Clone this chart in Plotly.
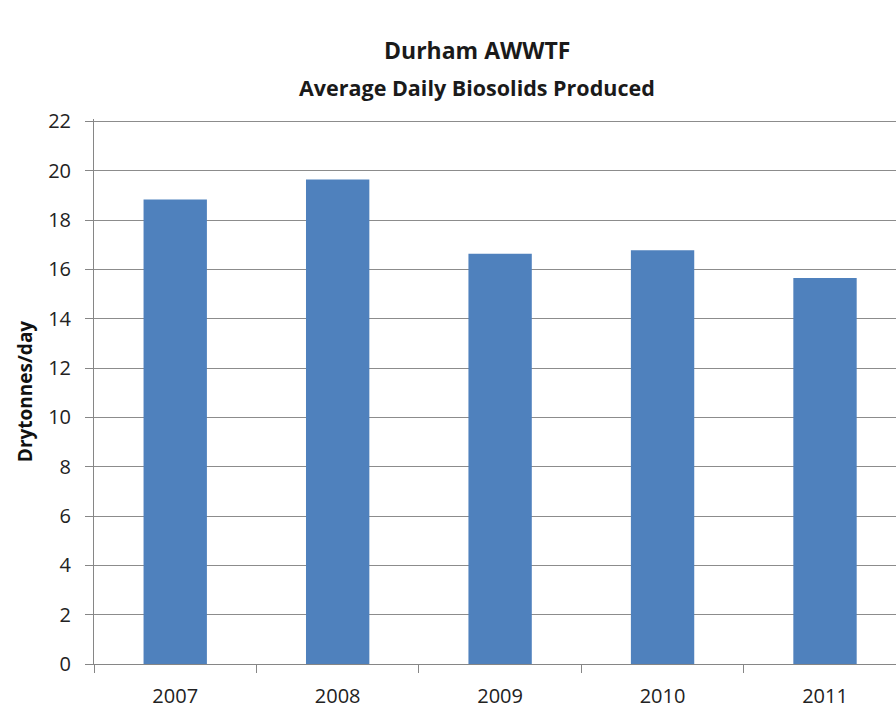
import plotly.graph_objects as go

years = ["2007", "2008", "2009", "2010", "2011"]
values = [18.84, 19.65, 16.64, 16.78, 15.65]
y_ticks = list(range(0, 23, 2))
title_lines = ["Durham AWWTF", "Average Daily Biosolids Produced"]

fig = go.Figure()
fig.add_trace(go.Bar(
    x=years, y=values,
    marker=dict(color="#4F81BD", line=dict(width=0)),
    width=0.39,
))

fig.update_layout(
    width=896, height=708,
    margin=dict(l=94, r=0, t=119, b=44),
    paper_bgcolor="white", plot_bgcolor="white",
    font=dict(family="Open Sans, Lato, sans-serif", color="#333333"),
    showlegend=False,
)

for i, line in enumerate(title_lines):
    fig.add_annotation(
        text="<b>%s</b>" % line,
        xref="paper", yref="paper",
        x=(477 - 94) / 802, y=1 + (119 - (50 + 38 * i)) / 545,
        xanchor="center", yanchor="middle", showarrow=False,
        font=dict(size=23 if i == 0 else 21.5, color="#1a1a1a", family="Open Sans, sans-serif"),
    )

fig.update_xaxes(
    type="category",
    range=[-0.5, 4.437],
    showline=True, linecolor="#868686", linewidth=1,
    ticks="outside", ticklen=8, tickcolor="#868686",
    tickson="boundaries",
    tickfont=dict(size=20, color="#222222"),
    ticklabelstandoff=14,
    showgrid=False,
    automargin=False,
)
fig.update_yaxes(
    range=[0, 22.1],
    tickvals=y_ticks,
    showline=True, linecolor="#868686", linewidth=1,
    ticks="outside", ticklen=8, tickcolor="#868686",
    showgrid=True, gridcolor="#8c8c8c", gridwidth=1,
    tickfont=dict(size=20, color="#222222"),
    ticklabelstandoff=10,
    title=dict(text="<b>Drytonnes/day</b>", font=dict(size=19, color="#111111"), standoff=10),
    zeroline=False,
    automargin=False,
)

fig.write_html("out.html")
